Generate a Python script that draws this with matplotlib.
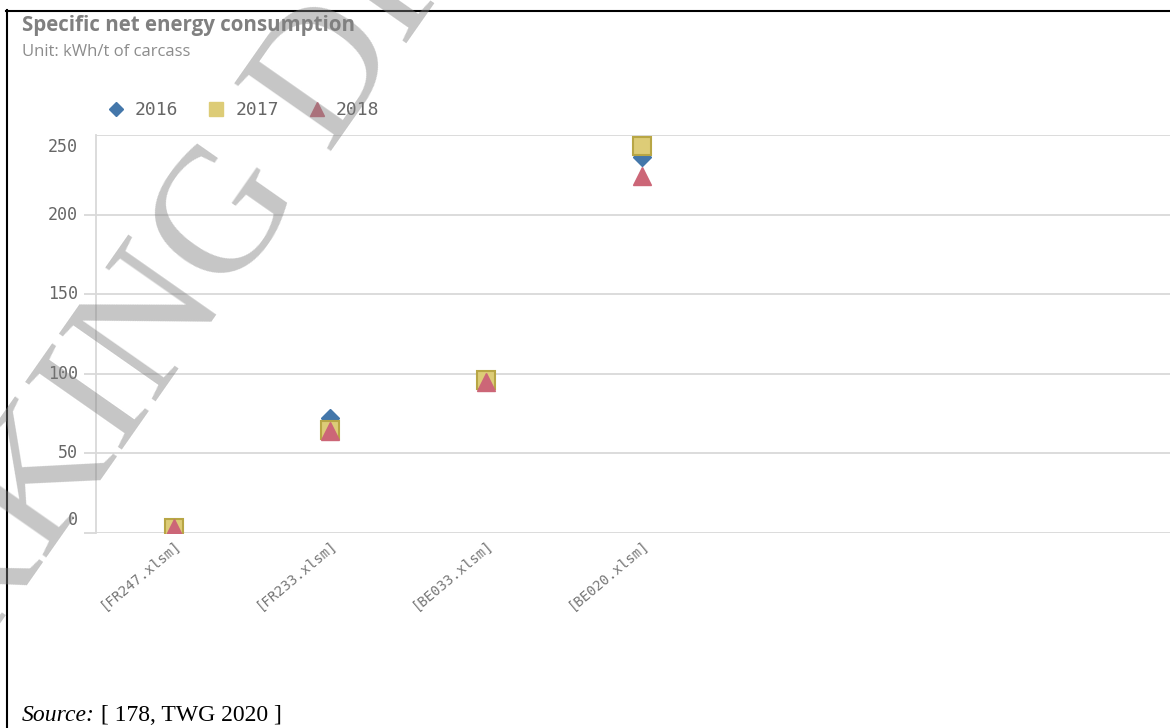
import matplotlib.pyplot as plt
import matplotlib.transforms as mtransforms
from matplotlib.lines import Line2D

# data
categories = ['[FR247.xlsm]', '[FR233.xlsm]', '[BE033.xlsm]', '[BE020.xlsm]']
years = ['2016', '2017', '2018']
values_2016 = [3, 72, 96, 236]
values_2017 = [3, 65, 96, 243]
values_2018 = [3, 64, 95, 224]
y_ticks = [0, 50, 100, 150, 200, 250]

W, H = 1170, 728
fig = plt.figure(figsize=(W / 100, H / 100), dpi=100)
fig.patch.set_facecolor('white')

grid_col = '#d9d9d9'
text_col = '#666666'
mono = 'DejaVu Sans Mono'

ax = fig.add_axes([96 / W, 1 - 533 / H, 1 - 96 / W, (533 - 135) / H])
xs = list(range(len(categories)))

ax.plot(xs, values_2016, linestyle='none', marker='D', ms=9,
        color='#4477aa', mec='#4477aa', zorder=3)
ax.plot(xs, values_2017, linestyle='none', marker='s', ms=13.5,
        color='#ddcc77', mec='#b8a645', mew=1.5, zorder=4)
ax.plot(xs, values_2018, linestyle='none', marker='^', ms=13,
        color='#cc6677', mec='#cc6677', zorder=5)

ax.set_xlim(-0.5, 6.385)
ax.set_ylim(0, 250)
ax.set_yticks(y_ticks)
ax.set_yticklabels([])
ax.yaxis.grid(True, color=grid_col, linewidth=1.3)
ax.set_axisbelow(True)
ax.tick_params(axis='y', length=8.6, width=1.3, color=grid_col)
ax.yaxis.get_major_ticks()[-1].tick1line.set_visible(False)
for s in ['top', 'right', 'bottom']:
    ax.spines[s].set_visible(False)
ax.spines['left'].set_color(grid_col)
ax.spines['left'].set_linewidth(1.3)
ax.spines['left'].set_zorder(0.5)

# y labels, Qlik style: end labels pulled inside the axis range
ytrans = mtransforms.blended_transform_factory(ax.transAxes, ax.transData)
for t in y_ticks:
    dy = 0
    if t == y_ticks[0]:
        dy = 13 / 100
    elif t == y_ticks[-1]:
        dy = -12 / 100
    tr = ytrans + mtransforms.ScaledTranslation(-18 / 100, dy, fig.dpi_scale_trans)
    ax.text(0, t, str(t), transform=tr, ha='right', va='center',
            fontsize=12, family=mono, color=text_col)

ax.set_xticks(xs)
ax.set_xticklabels(categories, rotation=40, ha='right', va='top',
                   rotation_mode='anchor', fontsize=10, family=mono, color='#777777')
ax.tick_params(axis='x', length=0, pad=3)

# legend
handles = [
    Line2D([], [], linestyle='none', marker='D', ms=7.5, color='#4477aa'),
    Line2D([], [], linestyle='none', marker='s', ms=10.5, color='#ddcc77'),
    Line2D([], [], linestyle='none', marker='^', ms=10, color='#cc6677'),
]
leg = fig.legend(handles, years, loc='center left', bbox_to_anchor=(107 / W, 1 - 110 / H),
                 ncol=3, frameon=False, handlelength=1.0, handletextpad=0.55,
                 columnspacing=1.6, borderpad=0, borderaxespad=0,
                 prop={'family': mono, 'size': 13})
for t in leg.get_texts():
    t.set_color(text_col)

# titles
fig.text(22 / W, 1 - 25 / H, 'Specific net energy consumption', fontsize=14.8,
         fontweight='bold', family='Open Sans', color='#808080', va='center')
fig.text(22 / W, 1 - 52 / H, 'Unit: kWh/t of carcass', fontsize=12,
         family='Open Sans', color='#8c8c8c', va='center')

# source line
t1 = fig.text(22 / W, 1 - 726 / H, 'Source:', fontsize=17, family='Liberation Serif',
              style='italic', color='black', va='bottom')
ax.annotate(' [ 178, TWG 2020 ]', xy=(1, 0), xycoords=t1, fontsize=17,
            family='Liberation Serif', color='black', va='bottom', ha='left',
            annotation_clip=False)

# page frame
fig.add_artist(Line2D([7 / W, 7 / W], [0, 1 - 10 / H], color='black', lw=1.5))
fig.add_artist(Line2D([6 / W, 1], [1 - 11 / H, 1 - 11 / H], color='black', lw=1.5))

# draft watermark
fig.text(200 / W, 1 - 263 / H, 'WORKING DRAFT', fontsize=130, family='Liberation Serif',
         color='gray', alpha=0.45, rotation=55, rotation_mode='anchor',
         ha='center', va='center', zorder=10)

fig.savefig('out.png', dpi=100)
